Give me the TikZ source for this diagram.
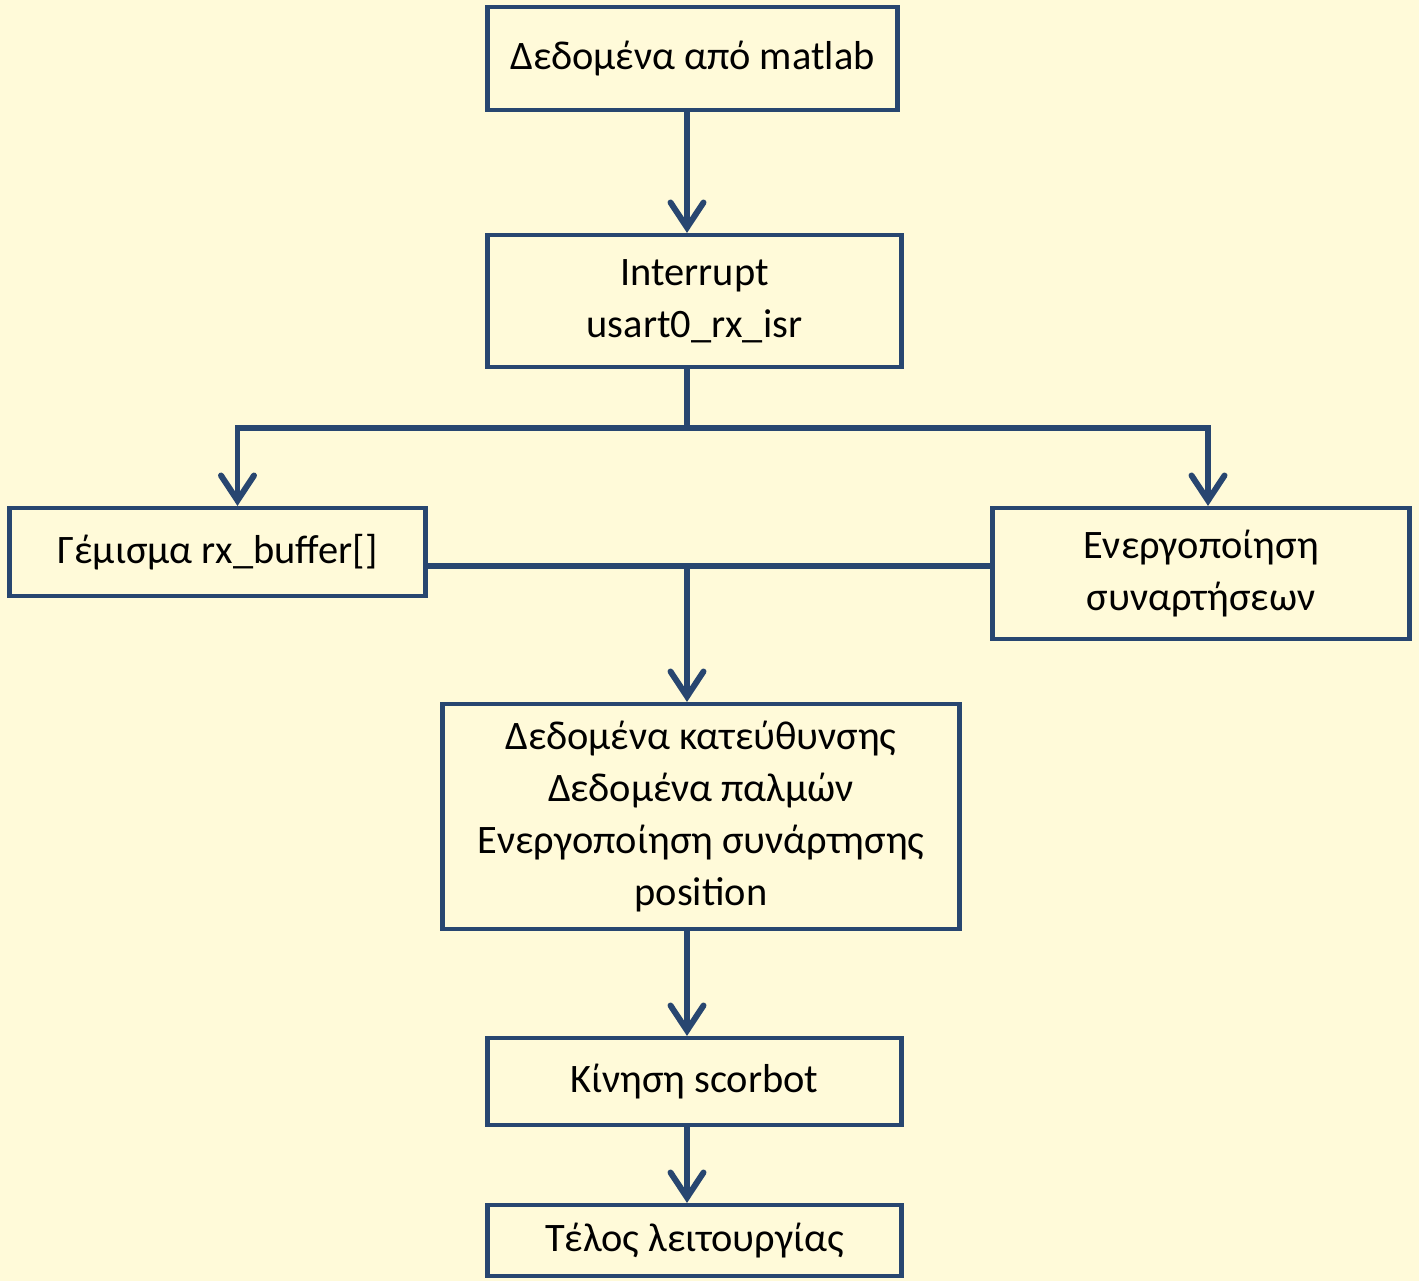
\documentclass[tikz,border=0pt]{standalone}
\usepackage{fontspec}
\setmainfont{Carlito}
\usetikzlibrary{arrows.meta,positioning}
\definecolor{paper}{RGB}{255,250,217}
\definecolor{navy}{RGB}{40,70,112}
\begin{document}
\begin{tikzpicture}[
      x=0.02cm, y=-0.02cm,
      >={Straight Barb[length=0.5cm, width=0.66cm, line cap=round]},
      flow/.style={->, line width=3.4pt, draw=navy},
      link/.style={line width=3.4pt, draw=navy},
      box/.style={draw=navy, line width=2.4pt, fill=paper, align=center,
        inner sep=0pt, font=\fontsize{23}{29.5}\selectfont}
    ]
    \fill[paper] (0,0) rectangle (1419,1281);
    \useasboundingbox (0,0) rectangle (1419,1281);

    % Boxes
    \node[box, minimum width=8.2cm, minimum height=2.06cm] (load) at (692.5,58.5)
      {Δεδομένα από matlab};
    \node[box, minimum width=8.28cm, minimum height=2.64cm] (isr) at (694.5,301)
      {Interrupt\\usart0\_rx\_isr};
    \node[box, minimum width=8.32cm, minimum height=1.76cm] (fill) at (217.5,552)
      {Γέμισμα rx\_buffer[]};
    \node[box, minimum width=8.34cm, minimum height=2.62cm] (enable) at (1201,573.5)
      {Ενεργοποίηση\\συναρτήσεων};
    \node[box, minimum width=10.34cm, minimum height=4.5cm] (data) at (701,816.5)
      {Δεδομένα κατεύθυνσης\\Δεδομένα παλμών\\Ενεργοποίηση συνάρτησης\\position};
    \node[box, minimum width=8.28cm, minimum height=1.74cm] (motion) at (694.5,1081.5)
      {Κίνηση scorbot};
    \node[box, minimum width=8.28cm, minimum height=1.42cm] (finish) at (694.5,1240.5)
      {Τέλος λειτουργίας};

    % Junctions
    \coordinate (split) at (687,428);
    \coordinate (merge) at (687,566);

    % Connectors
    \draw[flow] (merge |- load.south) -- (merge |- isr.north);
    \draw[link] (merge |- isr.south) -- (split);
    \draw[flow] (split) -| ([xshift=0.4cm]fill.north);
    \draw[flow] (split) -| ([xshift=0.14cm]enable.north);
    \draw[link] (merge -| fill.east) -- (merge -| enable.west);
    \draw[flow] (merge) -- (merge |- data.north);
    \draw[flow] (merge |- data.south) -- (merge |- motion.north);
    \draw[flow] (merge |- motion.south) -- (merge |- finish.north);
  \end{tikzpicture}
\end{document}
